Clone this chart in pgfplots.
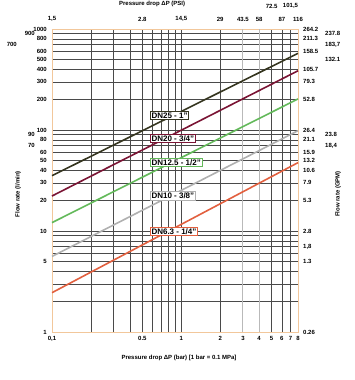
\documentclass[border=0pt]{standalone}
\usepackage{pgfplots}
\pgfplotsset{compat=1.18}
\usepackage{fontspec}
\setmainfont{Liberation Sans}
\definecolor{framec}{HTML}{F2C79B}
\definecolor{gridc}{HTML}{4A4A4A}
\definecolor{cdn25}{HTML}{35351F}
\definecolor{cdn20}{HTML}{7A1434}
\definecolor{cdn125}{HTML}{63B95A}
\definecolor{cdn10}{HTML}{B0B0B0}
\definecolor{cdn63}{HTML}{E2603F}
\newcommand{\tfont}{\fontsize{6}{7}\selectfont\bfseries}
\begin{document}
\begin{tikzpicture}[x=1pt,y=1pt]
\begin{axis}[
  at={(52pt,48pt)}, anchor=south west,
  scale only axis, width=246pt, height=303pt,
  xmode=log, ymode=log, xmin=0.1, xmax=8, ymin=1, ymax=1000,
  major tick length=0pt, minor tick length=0pt,
  tick label style={font=\tfont, inner sep=0pt},
  clip=false,
  axis line style={draw=framec, line width=0.8pt},
  xtick={0.1,0.2,0.3,0.4,0.5,0.6,0.7,0.8,0.9,1,2,5,6,7,8},
  xticklabels={0{,}1,,,,0.5,,,,,1,2,5,6,7,8},
  extra x ticks={3,4},
  extra x tick labels={3,4},
  extra x tick style={major grid style={draw=gray!55, line width=0.9pt}},
  xticklabel style={yshift=-4pt},
  ytick={1,2,3,4,5,6,7,8,9,10,20,30,40,50,60,70,80,90,100,200,300,400,500,600,700,800,900,1000},
  yticklabels={1,,,,5,,,,,10,20,30,40,50,60,,80,,100,200,300,400,500,600,,800,,1000},
  yticklabel style={xshift=-5pt},
  grid=major,
  major grid style={draw=gridc, line width=0.5pt},
  xlabel={Pressure drop ΔP (bar) [1 bar = 0.1 MPa]},
  xlabel style={font=\tfont, at={(rel axis cs:0.516,0)}, anchor=center, yshift=-26pt},
  ylabel={Flow rate (l/min)},
  ylabel style={font=\tfont, at={(rel axis cs:0,0.455)}, anchor=center, rotate=0, yshift=34pt},
]
\addplot[cdn25, line width=1.6pt] coordinates {(0.1,35.3) (8,574)};
\addplot[cdn20, line width=1.6pt] coordinates {(0.1,22.2) (8,386)};
\addplot[cdn125, line width=1.6pt] coordinates {(0.1,12.1) (8,203)};
\addplot[cdn10, line width=1.6pt] coordinates {(0.1,5.6) (8,98.4)};
\addplot[cdn63, line width=1.6pt] coordinates {(0.1,2.45) (8,47.5)};
\node[draw=cdn25, fill=white, inner sep=1.2pt, line width=0.8pt, anchor=west, font=\fontsize{8}{9}\selectfont\bfseries] at (rel axis cs:0.398,0.714) {DN25 - 1"};
\node[draw=cdn20, fill=white, inner sep=1.2pt, line width=0.8pt, anchor=west, font=\fontsize{8}{9}\selectfont\bfseries] at (rel axis cs:0.398,0.639) {DN20 - 3/4"};
\node[draw=cdn125, fill=white, inner sep=1.2pt, line width=0.8pt, anchor=west, font=\fontsize{8}{9}\selectfont\bfseries] at (rel axis cs:0.398,0.560) {DN12.5 - 1/2"};
\node[draw=cdn10, fill=white, inner sep=1.2pt, line width=0.8pt, anchor=west, font=\fontsize{8}{9}\selectfont\bfseries] at (rel axis cs:0.398,0.449) {DN10 - 3/8"};
\node[draw=cdn63, fill=white, inner sep=1.2pt, line width=0.8pt, anchor=west, font=\fontsize{8}{9}\selectfont\bfseries] at (rel axis cs:0.398,0.331) {DN6.3 - 1/4"};
\node[font=\tfont, inner sep=0pt, anchor=east, xshift=-17pt] at (axis cs:0.1,90) {90};
\node[font=\tfont, inner sep=0pt, anchor=east, xshift=-17pt] at (axis cs:0.1,70) {70};
\node[font=\tfont, inner sep=0pt, anchor=east, xshift=-17pt] at (axis cs:0.1,900) {900};
\node[font=\tfont, inner sep=0pt, anchor=east, xshift=-35pt] at (axis cs:0.1,700) {700};
\node[font=\tfont, inner sep=0pt, anchor=north, yshift=28.5pt] at (rel axis cs:0.407,1) {Pressure drop ΔP (PSI)};
\end{axis}
\begin{axis}[
  at={(52pt,48pt)}, anchor=south west,
  scale only axis, width=246pt, height=303pt,
  xmode=log, ymode=log, xmin=0.1, xmax=8, ymin=1, ymax=1000,
  major tick length=0pt, minor tick length=0pt,
  tick label style={font=\tfont, inner sep=0pt},
  clip=false,
  axis x line*=top, axis y line*=right,
  axis line style={draw=none},
  xtick={0.1,0.5,1,2,3,4,6,8},
  xticklabels={1{,}5,2.8,14{,}5,29,43.5,58,87,116},
  xticklabel style={yshift=7pt},
  extra x ticks={5,7},
  extra x tick labels={72.5,101{,}5},
  extra x tick style={xticklabel style={yshift=13pt}},
  ytick={1,5,7,10,20,30,40,50,60,80,100,200,300,400,600,800,1000},
  yticklabels={0.26,1.3,1{,}8,2.8,5.3,7.9,10.6,13.2,15.9,21.1,26.4,52.8,79.3,105.7,158.5,211.3,264.2},
  yticklabel style={xshift=5pt},
  extra y ticks={70,90,500,700,900},
  extra y tick labels={18{,}4,23.8,132.1,183{,}7,237.8},
  extra y tick style={yticklabel style={xshift=22pt}},
  ylabel={Flow rate (GPM)},
  ylabel style={font=\tfont, at={(rel axis cs:1,0.455)}, anchor=center, rotate=0, yshift=-40pt},
]
\end{axis}
\pgfresetboundingbox
\path[use as bounding box] (0,0) rectangle (355,380);
\end{tikzpicture}
\end{document}
